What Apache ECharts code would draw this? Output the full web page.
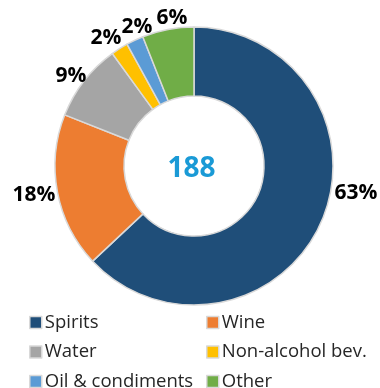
<!DOCTYPE html>
<html>
<head>
<meta charset="utf-8">
<script src="https://cdn.jsdelivr.net/npm/echarts@6/dist/echarts.min.js"></script>
<style>
  html, body { margin: 0; padding: 0; background: #ffffff; }
  #chart { width: 380px; height: 388px; }
</style>
</head>
<body>
<div id="chart"></div>
<script>
// Share of shipments by product group (percent)
const categories = ['Spirits', 'Wine', 'Water', 'Non-alcohol bev.', 'Oil & condiments', 'Other'];
const shares = [63, 18, 9, 2, 2, 6];
const colors = ['#1f4e79', '#ed7d31', '#a5a5a5', '#ffc000', '#5b9bd5', '#70ad47'];
const totalLabel = '188';

const leftLegend = [categories[0], categories[2], categories[4]];
const rightLegend = [categories[1], categories[3], categories[5]];

const font = '"Open Sans", "Noto Sans", sans-serif';

// Where each percentage label sits (label centre, px), clear of the ring
const labelSpots = [[356, 193], [34, 195], [71, 76], [106, 38], [137, 27], [172, 18]];

const legendBase = {
  orient: 'vertical',
  top: 313,
  height: 80,
  padding: 0,
  itemWidth: 12,
  itemHeight: 12,
  itemGap: 10.5,
  icon: 'rect',
  itemStyle: { borderColor: '#d9d9d9', borderWidth: 1.5 },
  textStyle: { fontFamily: font, fontSize: 18.5, lineHeight: 18, color: '#262626', padding: [0, 0, 0, -2] }
};

const chart = echarts.init(document.getElementById('chart'), null, { renderer: 'canvas' });
chart.setOption({
  animation: false,
  color: colors,
  legend: [
    Object.assign({}, legendBase, { left: 29, data: leftLegend }),
    Object.assign({}, legendBase, { left: 206, data: rightLegend })
  ],
  graphic: [{
    type: 'text',
    style: {
      text: totalLabel,
      x: 191.5, y: 169,
      align: 'center', verticalAlign: 'middle',
      fontFamily: font, fontSize: 28, fontWeight: 'bold', fill: '#1a9ad6'
    }
  }],
  series: [{
    type: 'pie',
    center: [194, 166],
    radius: [70, 139],
    startAngle: 90,
    clockwise: true,
    avoidLabelOverlap: false,
    itemStyle: { borderColor: '#d9d9d9', borderWidth: 1.5 },
    label: {
      show: true,
      position: 'outside',
      formatter: '{c}%',
      fontFamily: font,
      fontSize: 21,
      fontWeight: 'bold',
      color: '#000000'
    },
    labelLine: { show: false },
    labelLayout: function (params) {
      const spot = labelSpots[params.dataIndex];
      return { x: spot[0], y: spot[1], align: 'center', verticalAlign: 'middle', hideOverlap: false };
    },
    emphasis: { disabled: true },
    data: categories.map((name, i) => ({ name: name, value: shares[i] }))
  }]
});
</script>
</body>
</html>
